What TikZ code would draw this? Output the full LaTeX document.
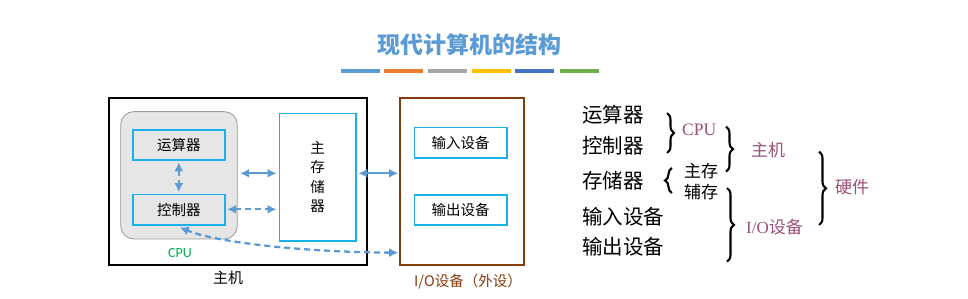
\documentclass[tikz,border=0pt]{standalone}
\usepackage{fontspec}
\setmainfont{Carlito}
\newfontfamily\cjk{Noto Sans CJK SC}
\newfontfamily\serifl{Liberation Serif}
\usetikzlibrary{arrows.meta,decorations.pathreplacing,calc}
\definecolor{tblue}{HTML}{5B9BD5}
\definecolor{cyanb}{HTML}{1AB0EA}
\definecolor{cpugray}{HTML}{E7E6E6}
\definecolor{cpuedge}{HTML}{9A9A9A}
\definecolor{brownb}{HTML}{843C0C}
\definecolor{purp}{HTML}{9A4F77}
\definecolor{greenc}{HTML}{00B050}
\definecolor{bar1}{HTML}{5B9BD5}
\definecolor{bar2}{HTML}{ED7D31}
\definecolor{bar3}{HTML}{A5A5A5}
\definecolor{bar4}{HTML}{FFC000}
\definecolor{bar5}{HTML}{4472C4}
\definecolor{bar6}{HTML}{70AD47}
\tikzset{
  unitbox/.style={draw=cyanb,line width=1.6pt,inner sep=0pt,font=\cjk\fontsize{14.5}{16}\selectfont},
  arr/.style={draw=tblue,line width=2.3pt,{Latex[length=9pt,width=9pt]}-{Latex[length=9pt,width=9pt]}},
  darr/.style={arr,dash pattern=on 6pt off 4pt},
  rtext/.style={anchor=west,inner sep=0pt,font=\cjk\fontsize{20.5}{22}\selectfont},
  btext/.style={inner sep=0pt,font=\cjk\fontsize{15}{17}\selectfont},
  brc/.style={decorate,decoration={brace,amplitude=7pt},line width=2.1pt},
  bar/.style={line width=4pt}
}
\begin{document}
\begin{tikzpicture}[x=1pt,y=-1pt]
\useasboundingbox (0,0) rectangle (968,299);
% title
\node[font=\cjk\bfseries\fontsize{23}{26}\selectfont,text=tblue] (title) at (469,45) {现代计算机的结构};
\draw[bar,bar1] (341,71.3) -- (380,71.3);
\draw[bar,bar2] (384,71.3) -- (422.7,71.3);
\draw[bar,bar3] (428,71.3) -- (466.7,71.3);
\draw[bar,bar4] (472,71.3) -- (511,71.3);
\draw[bar,bar5] (515,71.3) -- (554,71.3);
\draw[bar,bar6] (560,71.3) -- (598.7,71.3);
% main box
\node[draw=black,line width=2pt,minimum width=258pt,minimum height=167pt,inner sep=0pt] (host) at (237.5,181.7) {};
\node[draw=cpuedge,fill=cpugray,line width=0.8pt,rounded corners=13pt,minimum width=116.6pt,minimum height=127.3pt,inner sep=0pt] (cpu) at (179,175.3) {};
\node[unitbox,fill=cpugray,minimum width=92pt,minimum height=30pt] (alu) at (178.8,145) {运算器};
\node[unitbox,fill=cpugray,minimum width=92pt,minimum height=30.7pt] (ctl) at (178.8,209.7) {控制器};
\node[unitbox,fill=white,minimum width=76.7pt,minimum height=127.7pt,align=center,font=\cjk\fontsize{14.5}{19.5}\selectfont] (mem) at (317.7,177.2) {主\\存\\储\\器};
\node[text=greenc,font=\fontsize{14}{16}\selectfont,inner sep=0pt] (cpulab) at (180,253.3) {CPU};
\node[btext,font=\cjk\fontsize{15}{17}\selectfont] (hostlab) at (228,278) {主机};
% IO box
\node[draw=brownb,line width=1.8pt,minimum width=124.3pt,minimum height=167pt,inner sep=0pt] (io) at (462.2,181.7) {};
\node[unitbox,fill=white,minimum width=92.4pt,minimum height=30.6pt] (inp) at (460.5,143) {输入设备};
\node[unitbox,fill=white,minimum width=92.4pt,minimum height=30pt] (outp) at (460.5,210) {输出设备};
\node[text=brownb,inner sep=0pt,font=\cjk\fontsize{14.5}{16}\selectfont] (iolab) at (468,282) {I/O设备（外设）};
% connectors
\draw[arr] ($(cpu.east)+(2.5,-2)$) -- ($(mem.west)+(-2,-3.9)$);
\draw[darr] ($(ctl.east)+(1.5,-0.4)$) -- ($(mem.west |- ctl.east)+(-2,-0.4)$);
\draw[darr] ($(alu.south)+(0,1.5)$) -- ($(ctl.north)+(0,-1.5)$);
\draw[arr] ($(mem.east)+(1.5,-3.9)$) -- ($(io.west)+(-1,-8.4)$);
\coordinate (ioc) at ($(io.west)+(-1,71)$);
\draw[darr] (ioc) .. controls (300,252) and (215,242) .. ($(ctl.south)+(1,1.5)$);
% right side
\node[rtext] (r1) at (582,115) {运算器};
\node[rtext] (r2) at (582,146) {控制器};
\node[rtext] (r3) at (582,181) {存储器};
\node[rtext] (r4) at (582,216.7) {输入设备};
\node[rtext] (r5) at (582,246.7) {输出设备};
\coordinate (b1t) at (667,113);
\coordinate (b1b) at (667,153);
\draw[brc] (b1t) -- (b1b);
\node[text=purp,inner sep=0pt,font=\serifl\fontsize{17.5}{19}\selectfont,anchor=west] (cpur) at (682,130) {CPU};
\coordinate (b2t) at (672,193);
\coordinate (b2b) at (672,168);
\draw[brc] (b2t) -- (b2b);
\node[btext,anchor=west,font=\cjk\fontsize{17}{19}\selectfont] (zc) at (684,171) {主存};
\node[btext,anchor=west,font=\cjk\fontsize{17}{19}\selectfont] (fc) at (684,191.7) {辅存};
\coordinate (b3t) at (726,126.7);
\coordinate (b3b) at (726,171.7);
\draw[brc] (b3t) -- (b3b);
\node[text=purp,inner sep=0pt,font=\cjk\fontsize{17}{19}\selectfont,anchor=west] (hostr) at (751,150) {主机};
\coordinate (b4t) at (727,188);
\coordinate (b4b) at (727,261.7);
\draw[brc] (b4t) -- (b4b);
\node[text=purp,inner sep=0pt,font=\cjk\fontsize{17}{19}\selectfont,anchor=west] (ior) at (746,226.7) {{\serifl I/O}设备};
\coordinate (b5t) at (819,151.7);
\coordinate (b5b) at (819,225);
\draw[brc] (b5t) -- (b5b);
\node[text=purp,inner sep=0pt,font=\cjk\fontsize{17}{19}\selectfont,anchor=west] (hw) at (835,187) {硬件};
\end{tikzpicture}
\end{document}
